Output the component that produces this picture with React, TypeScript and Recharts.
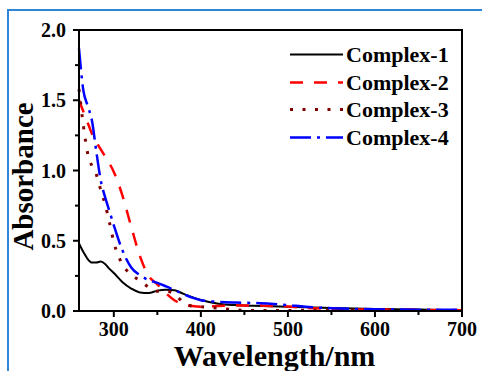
import React from 'react';
import { LineChart, Line, XAxis, YAxis, ReferenceLine } from 'recharts';

const wavelengths = [260, 265, 270, 275, 280, 285, 290, 295, 300, 310, 320, 330, 340, 350, 360, 370, 380, 390, 400, 420, 440, 460, 480, 500, 520, 550, 600, 650, 700];
const complex1 = [0.48, 0.42, 0.37, 0.345, 0.345, 0.352, 0.335, 0.3, 0.27, 0.205, 0.16, 0.132, 0.128, 0.145, 0.152, 0.147, 0.122, 0.098, 0.078, 0.052, 0.042, 0.037, 0.033, 0.03, 0.026, 0.021, 0.014, 0.01, 0.006];
const complex2 = [1.5, 1.42, 1.34, 1.26, 1.2, 1.15, 1.1, 1.05, 0.99, 0.82, 0.6, 0.39, 0.25, 0.19, 0.125, 0.075, 0.048, 0.035, 0.03, 0.035, 0.04, 0.04, 0.036, 0.032, 0.022, 0.015, 0.01, 0.008, 0.006];
const complex3 = [1.58, 1.32, 1.12, 1.03, 0.97, 0.86, 0.76, 0.63, 0.49, 0.33, 0.26, 0.215, 0.17, 0.14, 0.14, 0.12, 0.06, 0.035, 0.03, 0.02, 0.008, 0.003, 0.003, 0.004, 0.005, 0.006, 0.005, 0.004, 0.003];
const complex4 = [1.87, 1.57, 1.46, 1.35, 1.13, 0.93, 0.81, 0.71, 0.61, 0.43, 0.31, 0.255, 0.22, 0.2, 0.175, 0.148, 0.12, 0.095, 0.077, 0.065, 0.06, 0.057, 0.052, 0.042, 0.03, 0.02, 0.012, 0.009, 0.008];

const xTicks = [300, 350, 400, 450, 500, 550, 600, 650, 700];
const xMajor = [300, 400, 500, 600, 700];
const yTicks = [0, 0.25, 0.5, 0.75, 1, 1.25, 1.5, 1.75, 2];
const yMajor = [0, 0.5, 1, 1.5, 2];
const xDomain = [260, 700];
const yDomain = [0, 2];

const seriesNames = ['Complex-1', 'Complex-2', 'Complex-3', 'Complex-4'];
const seriesKeys = ['c1', 'c2', 'c3', 'c4'];

const data = wavelengths.map((w, i) => ({
  w,
  c1: complex1[i],
  c2: complex2[i],
  c3: complex3[i],
  c4: complex4[i],
}));

const FONT = '"Liberation Serif", "Times New Roman", serif';

const styles = [
  { color: '#000000', dash: undefined as string | undefined, width: 2 },
  { color: '#ff0000', dash: '13 11', width: 2.5 },
  { color: '#800000', dash: '3 9.5', width: 3 },
  { color: '#0000ff', dash: '21 6 3 6', width: 2.5 },
];

const XTick = (props: any) => {
  const { x, y, payload } = props;
  const major = xMajor.includes(payload.value);
  return (
    <g>
      <line x1={x} x2={x} y1={y} y2={y + (major ? 6 : 4)} stroke="#000" strokeWidth={2} />
      {major && (
        <text x={x} y={y + 25} textAnchor="middle" fontFamily={FONT} fontWeight="bold" fontSize={20} fill="#000">
          {payload.value}
        </text>
      )}
    </g>
  );
};

const YTick = (props: any) => {
  const { x, y, payload } = props;
  const major = yMajor.includes(payload.value);
  return (
    <g>
      <line x1={x} x2={x - (major ? 6 : 4)} y1={y} y2={y} stroke="#000" strokeWidth={2} />
      {major && (
        <text x={x - 13} y={y + 7} textAnchor="end" fontFamily={FONT} fontWeight="bold" fontSize={20} fill="#000">
          {payload.value.toFixed(1)}
        </text>
      )}
    </g>
  );
};

const LegendBox = () => (
  <div style={{ position: 'absolute', left: 288, top: 41, display: 'flex', flexDirection: 'column' }}>
    {seriesNames.map((n, i) => (
      <div key={n} style={{ display: 'flex', alignItems: 'center', height: 27.5 }}>
        <svg width={58} height={27} style={{ display: 'block' }}>
          <line
            x1={2}
            x2={55}
            y1={13.5}
            y2={13.5}
            stroke={styles[i].color}
            strokeWidth={styles[i].width}
            strokeDasharray={styles[i].dash}
          />
        </svg>
        <span style={{ fontFamily: FONT, fontWeight: 'bold', fontSize: 22, color: '#000', lineHeight: '27px', whiteSpace: 'nowrap' }}>{n}</span>
      </div>
    ))}
  </div>
);

export default function App() {
  return (
    <div style={{ position: 'absolute', left: 0, top: 0, width: 482, height: 371, background: '#fff', overflow: 'hidden' }}>
      <div
        style={{
          position: 'absolute',
          left: 7,
          top: 9,
          width: 600,
          height: 600,
          borderTop: '2px solid #2f86d8',
          borderLeft: '2px solid #2f86d8',
        }}
      />
      <div style={{ position: 'absolute', left: 0, top: 0 }}>
        <LineChart width={482} height={371} data={data} margin={{ top: 10, right: 0, left: 0, bottom: 0 }}>
          <XAxis
            dataKey="w"
            type="number"
            domain={xDomain}
            ticks={xTicks}
            interval={0}
            height={60}
            tickSize={0}
            tickMargin={0}
            tickLine={false}
            tick={<XTick />}
            axisLine={{ stroke: '#000', strokeWidth: 2 }}
            label={{
              content: (p: any) => {
                const vb = p.viewBox;
                return (
                  <text x={vb.x + vb.width / 2 + 4} y={vb.y + 55} textAnchor="middle" fontFamily={FONT} fontWeight="bold" fontSize={30} fill="#000">
                    Wavelength/nm
                  </text>
                );
              },
            }}
          />
          <XAxis
            xAxisId="top"
            orientation="top"
            dataKey="w"
            type="number"
            domain={xDomain}
            height={20}
            tick={false}
            tickLine={false}
            axisLine={{ stroke: '#000', strokeWidth: 2 }}
          />
          <YAxis
            type="number"
            domain={yDomain}
            ticks={yTicks}
            interval={0}
            width={79}
            tickSize={0}
            tickMargin={0}
            tickLine={false}
            tick={<YTick />}
            axisLine={{ stroke: '#000', strokeWidth: 2 }}
            label={{
              content: (p: any) => {
                const vb = p.viewBox;
                const cx = 33;
                const cy = vb.y + vb.height / 2 + 6;
                return (
                  <text x={cx} y={cy} transform={`rotate(-90, ${cx}, ${cy})`} textAnchor="middle" fontFamily={FONT} fontWeight="bold" fontSize={29} fill="#000">
                    Absorbance
                  </text>
                );
              },
            }}
          />
          <YAxis
            yAxisId="right"
            orientation="right"
            type="number"
            domain={yDomain}
            width={20}
            tick={false}
            tickLine={false}
            axisLine={{ stroke: '#000', strokeWidth: 2 }}
          />
          <ReferenceLine y={2} stroke="#000" strokeWidth={2} />
          {seriesKeys.map((k, i) => (
            <Line
              key={k}
              dataKey={k}
              name={seriesNames[i]}
              type="monotone"
              stroke={styles[i].color}
              strokeWidth={styles[i].width}
              strokeDasharray={styles[i].dash}
              dot={false}
              activeDot={false}
              isAnimationActive={false}
            />
          ))}
        </LineChart>
      </div>
      <div style={{ position: 'absolute', left: 78, top: 29, width: 385, height: 2, background: '#000' }} />
      <LegendBox />
    </div>
  );
}
